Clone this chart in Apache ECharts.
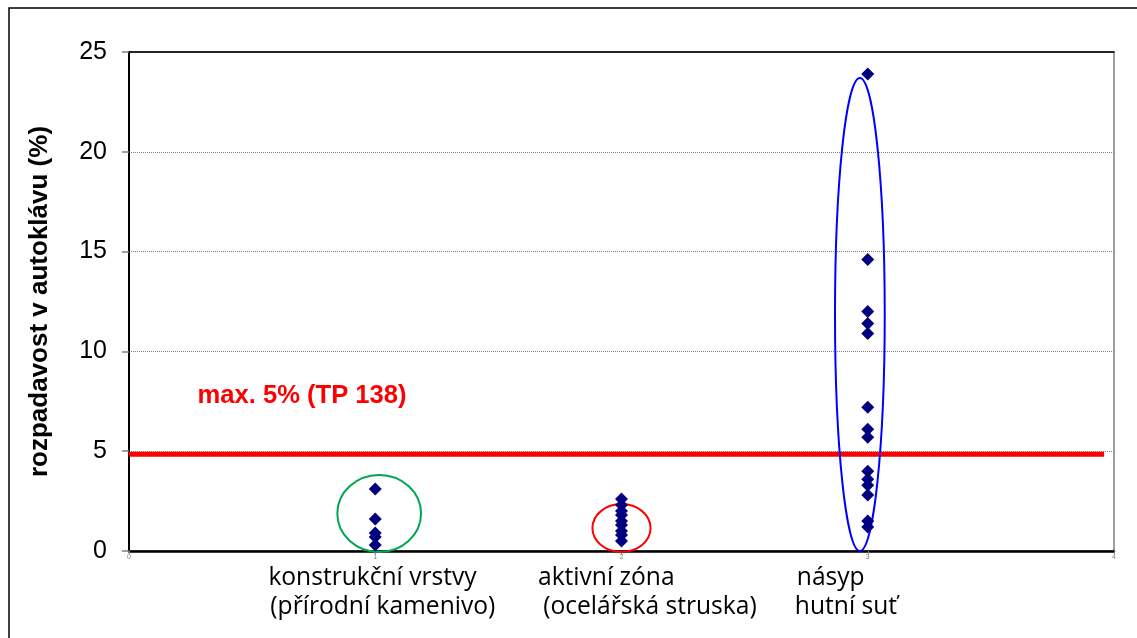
<!DOCTYPE html>
<html><head><meta charset="utf-8">
<script src="https://cdn.jsdelivr.net/npm/echarts@6/dist/echarts.min.js"></script>
<style>html,body{margin:0;padding:0;background:#fff}#c{width:1137px;height:638px}</style>
</head><body><div id="c"></div>
<script>
// ---- data ----
const yTicks = [0, 5, 10, 15, 20, 25];
const xTicks = [0, 1, 2, 3, 4];
const groupX = [1, 2, 3];
const group1 = [3.1, 1.6, 0.9, 0.7, 0.3];
const group2 = [2.6, 2.3, 2.0, 1.8, 1.5, 1.3, 1.0, 0.8, 0.5];
const group3 = [23.9, 14.6, 12.0, 11.4, 10.9, 7.2, 6.1, 5.7, 4.0, 3.6, 3.3, 2.8, 1.5, 1.2];
const categoryLines = [
  ['konstrukční vrstvy', '(přírodní kamenivo)'],
  ['aktivní zóna', '(ocelářská struska)'],
  ['násyp', 'hutní suť']
];
const limitValue = 4.85;
const limitEndX = 3.96;
const limitLabel = 'max. 5% (TP 138)';
const yAxisTitle = 'rozpadavost v autoklávu (%)';

// ---- annotation layout (data units) ----
const ellipses = [ // cx, cy, rx, ry
  [1.016, 1.88, 0.170, 1.93],
  [2.0, 1.15, 0.118, 1.2],
  [2.968, 11.85, 0.101, 11.85]
];
const ellipseColors = ['#00a650', '#ff0000', '#0000ff'];
const line1Left = [0.566, 1.661, 2.712];
const line2Left = [0.574, 1.682, 2.704];
const labelTopY = -0.63;
const limitLabelPos = [0.278, 7.77];

const points = [];
[group1, group2, group3].forEach((g, i) => g.forEach(v => points.push([groupX[i], v])));

const textItems = [];
categoryLines.forEach((ls, i) => {
  textItems.push({ value: [line1Left[i], labelTopY], text: ls[0], line: 0 });
  textItems.push({ value: [line2Left[i], labelTopY], text: ls[1], line: 1 });
});

const chart = echarts.init(document.getElementById('c'), null, { renderer: 'canvas' });
chart.setOption({
  animation: false,
  backgroundColor: '#fff',
  grid: { left: 129, right: 23, top: 52, bottom: 87, show: true, borderColor: '#808080', borderWidth: 1.5, backgroundColor: 'transparent' },
  graphic: [{
    type: 'rect', shape: { x: 9, y: 8, width: 1300, height: 800 },
    style: { fill: 'none', stroke: '#000', lineWidth: 1.5 }, z: 100
  }],
  xAxis: [{
    type: 'value', min: xTicks[0], max: xTicks[xTicks.length - 1], interval: 1,
    axisLine: { show: true, lineStyle: { color: '#000', width: 2.5 } },
    axisTick: { show: true, length: 3, lineStyle: { color: '#808080' } },
    axisLabel: { fontSize: 7, color: '#808080', margin: 3, fontFamily: 'Liberation Sans' },
    splitLine: { show: false }
  }, {
    type: 'value', position: 'top', min: xTicks[0], max: xTicks[xTicks.length - 1], interval: 1,
    axisLine: { show: true, onZero: false, lineStyle: { color: '#000', width: 1.5 } },
    axisTick: { show: false }, axisLabel: { show: false }, splitLine: { show: false }
  }],
  yAxis: {
    type: 'value', min: yTicks[0], max: yTicks[yTicks.length - 1], interval: 5,
    name: yAxisTitle, nameLocation: 'middle', nameGap: 76,
    nameTextStyle: { fontFamily: 'Liberation Sans', fontWeight: 'bold', fontSize: 26, color: '#000' },
    axisLine: { show: true, lineStyle: { color: '#000', width: 2 } },
    axisTick: { show: true, length: 7, lineStyle: { color: '#808080', width: 1.5 } },
    axisLabel: { fontFamily: 'Liberation Sans', fontSize: 25, color: '#000', margin: 22 },
    splitLine: { show: true, lineStyle: { color: '#808080', type: 'dotted', width: 1 } }
  },
  series: [{
    type: 'line', data: [[0, limitValue], [limitEndX, limitValue]],
    symbol: 'none', lineStyle: { color: '#ff0000', width: 5 }, z: 3, silent: true
  }, {
    type: 'custom', clip: false, z: 4, silent: true,
    data: ellipses,
    renderItem: (params, api) => {
      const c = api.coord([api.value(0), api.value(1)]);
      const s = api.size([api.value(2), api.value(3)]);
      return { type: 'ellipse', shape: { cx: c[0], cy: c[1], rx: s[0], ry: s[1] },
        style: { fill: 'none', stroke: ellipseColors[params.dataIndex], lineWidth: 2 } };
    }
  }, {
    type: 'scatter', data: points, symbol: 'diamond', symbolSize: 13,
    itemStyle: { color: '#000080', opacity: 1 }, z: 5
  }, {
    type: 'custom', clip: false, z: 6, silent: true,
    data: textItems.map(t => t.value),
    renderItem: (params, api) => {
      const it = textItems[params.dataIndex];
      const p = api.coord([api.value(0), api.value(1)]);
      return { type: 'text', x: p[0], y: p[1] + it.line * 29,
        style: { text: it.text, fontFamily: 'Open Sans', fontSize: 24.6, fill: '#000', align: 'left', verticalAlign: 'top', lineHeight: 29 } };
    }
  }, {
    type: 'custom', clip: false, z: 6, silent: true,
    data: [limitLabelPos],
    renderItem: (params, api) => {
      const p = api.coord([api.value(0), api.value(1)]);
      return { type: 'text', x: p[0], y: p[1],
        style: { text: limitLabel, fontFamily: 'Liberation Sans', fontWeight: 'bold', fontSize: 25.6, fill: '#ff0000', align: 'left', verticalAlign: 'middle' } };
    }
  }]
});
</script>
</body></html>
